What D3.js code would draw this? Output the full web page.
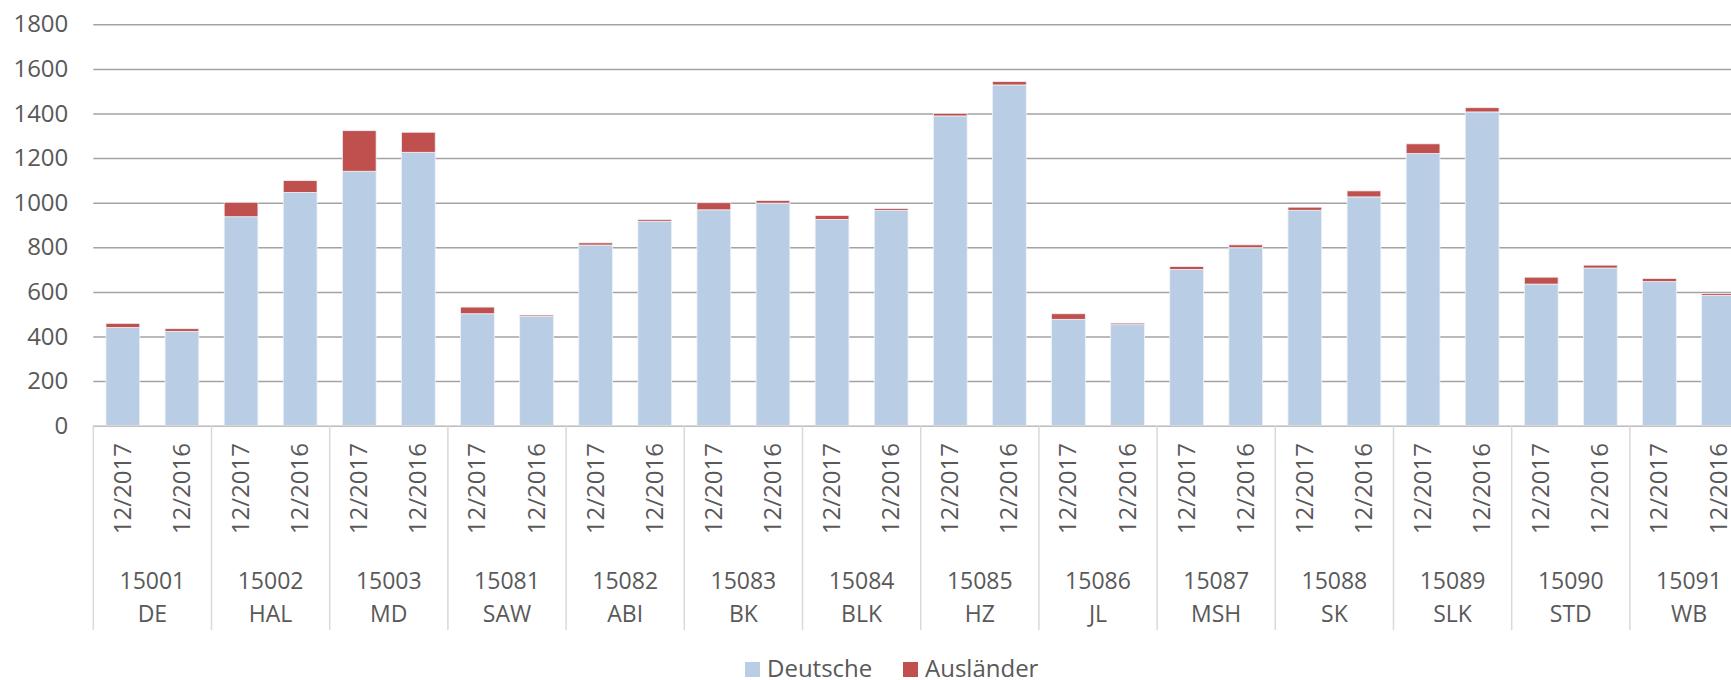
<!DOCTYPE html>
<html>
<head>
<meta charset="utf-8">
<script src="https://cdn.jsdelivr.net/npm/d3@7"></script>
<style>
  body { margin: 0; background: #fff; overflow: hidden; }
  text { font-family: "Open Sans", "Noto Sans", sans-serif; fill: #595959; }
</style>
</head>
<body>
<svg></svg>
<script>
const width = 1731;
const height = 680;

// regions (Kreis code + short name)
const codes = ["15001", "15002", "15003", "15081", "15082", "15083", "15084",
  "15085", "15086", "15087", "15088", "15089", "15090", "15091"];
const names = ["DE", "HAL", "MD", "SAW", "ABI", "BK", "BLK",
  "HZ", "JL", "MSH", "SK", "SLK", "STD", "WB"];
const periods = ["12/2017", "12/2016"];

// values, two per region in the order of periods
const deutsche = [440, 423, 937, 1046, 1141, 1226, 502, 490, 810, 917,
  968, 998, 925, 966, 1389, 1528, 477, 453, 701, 798,
  966, 1026, 1220, 1407, 635, 707, 646, 584];
const auslaender = [19, 12, 65, 53, 182, 90, 30, 6, 10, 8,
  32, 12, 18, 8, 12, 15, 25, 7, 13, 13,
  14, 27, 44, 19, 31, 13, 14, 8];

const yTicks = [0, 200, 400, 600, 800, 1000, 1200, 1400, 1600, 1800];
const seriesNames = ["Deutsche", "Ausländer"];
const colors = ["#b9cde5", "#c0504d"];

const left = 93.3;
const groupW = 118.2;
const axisY = 425.7;
const sepBottom = 630;

let rows = [];
codes.forEach((c, i) => {
  periods.forEach((p, j) => {
    let k = i * 2 + j;
    rows.push({ code: c, period: p, deutsche: deutsche[k], auslaender: auslaender[k] });
  });
});

let svg = d3.select("svg")
  .attr("width", width)
  .attr("height", height);

let x0 = d3.scaleBand()
  .domain(codes)
  .range([left, left + groupW * codes.length]);

let x1 = d3.scaleBand()
  .domain(periods)
  .range([0, x0.bandwidth()])
  .paddingInner(0.4286)
  .paddingOuter(0.2143);

let y = d3.scaleLinear()
  .domain([0, 1800])
  .range([axisY, 24.3]);

// gridlines + y labels
let yAxis = svg.append("g")
  .attr("transform", `translate(${left}, 0)`)
  .call(d3.axisLeft(y)
    .tickValues(yTicks)
    .tickFormat(d3.format("d"))
    .tickSize(-(width - left))
    .tickPadding(25));
yAxis.select(".domain").remove();
yAxis.selectAll(".tick line")
  .attr("stroke", "#a3a3a3")
  .attr("stroke-width", 1.5);
yAxis.selectAll(".tick text")
  .style("font-size", "24px")
  .attr("fill", "#595959");

let stacked = d3.stack().keys(["deutsche", "auslaender"])(rows);

svg.append("g")
  .selectAll("g")
  .data(stacked)
  .join("g")
  .attr("fill", (d, i) => colors[i])
  .selectAll("rect")
  .data(d => d)
  .join("rect")
  .attr("x", d => x0(d.data.code) + x1(d.data.period))
  .attr("width", x1.bandwidth())
  .attr("y", d => y(d[1]))
  .attr("height", d => y(d[0]) - y(d[1]))
  .attr("stroke", "#eef2f8")
  .attr("stroke-width", 0.8);

// category axis
let xAxis = svg.append("g");
xAxis.append("line")
  .attr("x1", left).attr("x2", width)
  .attr("y1", axisY).attr("y2", axisY)
  .attr("stroke", "#d9d9d9")
  .attr("stroke-width", 1.5);

xAxis.selectAll(".sep")
  .data(codes)
  .join("line")
  .attr("class", "sep")
  .attr("x1", d => x0(d)).attr("x2", d => x0(d))
  .attr("y1", axisY).attr("y2", sepBottom)
  .attr("stroke", "#d9d9d9")
  .attr("stroke-width", 1.5);

xAxis.selectAll(".period")
  .data(rows)
  .join("text")
  .attr("class", "period")
  .attr("transform", d => `translate(${x0(d.code) + x1(d.period) + x1.bandwidth() / 2 + 8}, 443) rotate(-90)`)
  .style("text-anchor", "end")
  .style("font-size", "24px")
  .text(d => d.period);

xAxis.selectAll(".code")
  .data(codes)
  .join("text")
  .attr("class", "code")
  .attr("x", d => x0(d) + x0.bandwidth() / 2)
  .attr("y", 589)
  .style("text-anchor", "middle")
  .style("font-size", "23px")
  .text(d => d);

xAxis.selectAll(".name")
  .data(names)
  .join("text")
  .attr("class", "name")
  .attr("x", (d, i) => x0(codes[i]) + x0.bandwidth() / 2)
  .attr("y", 622)
  .style("text-anchor", "middle")
  .style("font-size", "23px")
  .text(d => d);

// legend
let legendX = [745, 903];
let legend = svg.append("g")
  .selectAll("g")
  .data(seriesNames)
  .join("g")
  .attr("transform", (d, i) => `translate(${legendX[i]}, 662)`);
legend.append("rect")
  .attr("width", 15)
  .attr("height", 15)
  .attr("fill", (d, i) => colors[i]);
legend.append("text")
  .attr("x", 22)
  .attr("y", 15)
  .style("font-size", "24px")
  .text(d => d);
</script>
</body>
</html>
